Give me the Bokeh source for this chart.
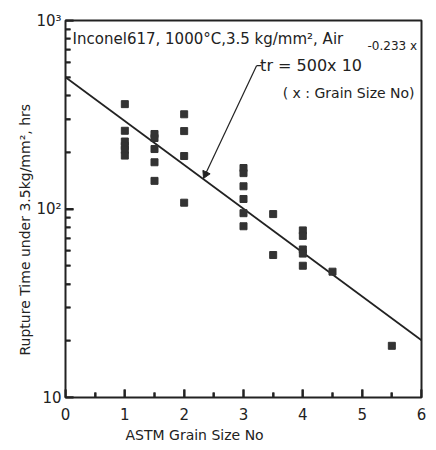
import math
from bokeh.plotting import figure
from bokeh.models import FixedTicker, ColumnDataSource, Title
from bokeh.core.properties import value
from bokeh.embed import file_html
from bokeh.resources import INLINE

# ---- data ----
grain_size = [1, 1, 1, 1, 1, 1,
              1.5, 1.5, 1.5, 1.5, 1.5,
              2, 2, 2, 2,
              3, 3, 3, 3, 3, 3,
              3.5, 3.5,
              4, 4, 4, 4, 4,
              4.5,
              5.5]
rupture_hrs = [360, 260, 228, 216, 206, 192,
               250, 238, 208, 177, 141,
               318, 259, 191, 108,
               165, 155, 132, 113, 95, 81,
               94, 57,
               77, 72, 61, 58, 50,
               46.5,
               18.8]
fit_x = [0, 6]
fit_y = [500.0, 20.1]   # tr = 500 x 10^(-0.233 x)
x_ticks = [0, 1, 2, 3, 4, 5, 6]
x_minor = [0.5, 1.5, 2.5, 3.5, 4.5, 5.5]
y_ticks = [10, 100, 1000]
y_tick_labels = ["10", "10\u00b2", "10\u00b3"]
y_minor = [20, 30, 40, 50, 60, 70, 80, 90, 200, 300, 400, 500, 600, 700, 800, 900]

FONT = "DejaVu Sans"
INK = "#222222"
X0, X1, Y0, Y1 = 0, 6, 10, 1000
FRAME_W, FRAME_H = 356, 377
PX_PER_X = FRAME_W / (X1 - X0)
PX_PER_DEC = FRAME_H / math.log10(Y1 / Y0)

p = figure(width=430, height=450, x_range=(X0, X1), y_range=(Y0, Y1), y_axis_type="log",
           output_backend="svg", toolbar_location=None,
           min_border_left=65, min_border_top=20, min_border_right=9, min_border_bottom=53)
p.background_fill_color = "white"
p.outline_line_color = INK
p.outline_line_width = 2
p.xgrid.visible = False
p.ygrid.visible = False

p.xaxis.ticker = FixedTicker(ticks=x_ticks, minor_ticks=x_minor)
p.yaxis.ticker = FixedTicker(ticks=y_ticks, minor_ticks=y_minor)
p.yaxis.major_label_overrides = {t: s for t, s in zip(y_ticks, y_tick_labels)}
for ax in (p.xaxis, p.yaxis):
    ax.axis_line_color = INK
    ax.major_tick_in = 8
    ax.major_tick_out = 0
    ax.minor_tick_in = 5
    ax.minor_tick_out = 0
    ax.major_tick_line_color = INK
    ax.minor_tick_line_color = INK
    ax.major_tick_line_width = 2
    ax.minor_tick_line_width = 2
    ax.major_label_text_font = FONT
    ax.major_label_text_font_size = "15px"
    ax.major_label_text_color = INK
p.xaxis.major_label_standoff = 10
p.yaxis.major_label_standoff = 4

# inward ticks also as segments starting just outside the frame (clipped at the edge)
def up(px):
    return 10 ** (px / PX_PER_DEC)

p.segment(x0=x_ticks, y0=[Y0 * 0.9] * len(x_ticks), x1=x_ticks, y1=[Y0 * up(8)] * len(x_ticks),
          line_color=INK, line_width=2)
p.segment(x0=x_minor, y0=[Y0 * 0.9] * len(x_minor), x1=x_minor, y1=[Y0 * up(5)] * len(x_minor),
          line_color=INK, line_width=2)
p.segment(x0=[X0 - 0.1] * len(y_ticks), y0=y_ticks, x1=[X0 + 8 / PX_PER_X] * len(y_ticks),
          y1=y_ticks, line_color=INK, line_width=2)
p.segment(x0=[X0 - 0.1] * len(y_minor), y0=y_minor, x1=[X0 + 5 / PX_PER_X] * len(y_minor),
          y1=y_minor, line_color=INK, line_width=1.5)

# fit line and data
p.line(fit_x, fit_y, line_color=INK, line_width=1.8)
src = ColumnDataSource(dict(x=grain_size, y=rupture_hrs))
p.scatter("x", "y", source=src, marker="square", size=7, fill_color="#333333",
          line_color="#333333")

# axis titles placed like the reference (off-centre)
p.add_layout(Title(text="Rupture Time under 3.5kg/mm\u00b2, hrs", align="left", offset=42,
                   standoff=2, text_font=FONT, text_font_size="14px",
                   text_font_style="normal", text_color=INK), "left")
p.add_layout(Title(text="ASTM  Grain Size   No", align="left", offset=60,
                   standoff=5, text_font=FONT, text_font_size="14px",
                   text_font_style="normal", text_color=INK), "below")

# in-plot texts as text glyphs
def put(x, y, s, size):
    p.text(x=[x], y=[y], text=[s], text_font=value(FONT), text_font_size=value(size),
           text_color=INK, text_baseline="middle", text_align="left")

put(0.12, 800, "Inconel617, 1000\u00b0C,3.5 kg/mm\u00b2, Air", "15px")
put(3.28, 576, "tr = 500x 10", "16px")
put(5.09, 736, "-0.233 x", "12px")
put(3.66, 410, "( x : Grain Size No)", "14px")

# leader line with arrow head pointing at the fit line
p.segment(x0=[3.3, 3.22], y0=[576, 576], x1=[3.22, 2.35], y1=[576, 151],
          line_color=INK, line_width=1.2)
p.scatter([2.36], [153], marker="triangle", size=8, angle=2.70,
          fill_color=INK, line_color=INK)

open("out.html", "w").write(file_html(p, INLINE))
